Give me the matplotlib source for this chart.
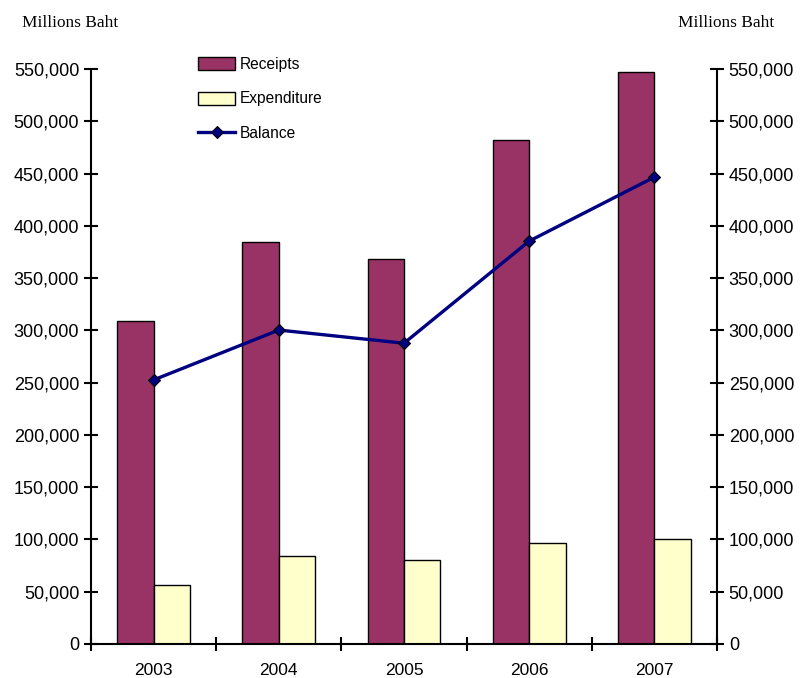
import numpy as np
import matplotlib.pyplot as plt
from matplotlib.ticker import FuncFormatter, FixedLocator

years = ['2003', '2004', '2005', '2006', '2007']
receipts = [309000, 384500, 368000, 482000, 547000]
expenditure = [56400, 84200, 80300, 96600, 100400]
balance = [252600, 300300, 287700, 385400, 446600]

plt.rcParams['font.family'] = ['Liberation Sans', 'DejaVu Sans']

fig = plt.figure(figsize=(8.04, 6.78), dpi=100)
ax = fig.add_axes([91/804, 34/678, 626/804, 575/678])

x = np.arange(len(years))
w = 0.29
ax.bar(x - w/2, receipts, w, color='#993366', edgecolor='black', linewidth=1, label='Receipts')
ax.bar(x + w/2, expenditure, w, color='#FFFFCC', edgecolor='black', linewidth=1, label='Expenditure')

ax2 = ax.twinx()
ax2.plot(x, balance, color='#000080', linewidth=2.4, marker='D', markersize=6,
         markerfacecolor='#000080', markeredgecolor='black', markeredgewidth=0.8, label='Balance')

fmt = FuncFormatter(lambda v, p: f'{int(v):,}')
for a in (ax, ax2):
    a.set_ylim(0, 550000)
    a.set_yticks(np.arange(0, 550001, 50000))
    a.yaxis.set_major_formatter(fmt)
    a.spines['top'].set_visible(False)
    a.tick_params(axis='y', direction='inout', length=10, width=1.5, labelsize=13)
    for s in a.spines.values():
        s.set_linewidth(1.5)

ax.set_xlim(-0.5, len(years) - 0.5)
ax.set_xticks(x)
ax.set_xticklabels(years)
ax.xaxis.set_minor_locator(FixedLocator(np.arange(-0.5, len(years), 1)))
ax.tick_params(axis='x', which='major', length=0, labelsize=12.5, pad=14)
ax.tick_params(axis='x', which='minor', direction='inout', length=10, width=1.5)
ax.spines['right'].set_visible(False)
ax2.spines['left'].set_visible(False)
ax2.spines['bottom'].set_visible(False)

fig.text(22/804, 1 - 23/678, 'Millions Baht', family='Liberation Serif', fontsize=12.4, va='center', ha='left')
fig.text(774/804, 1 - 23/678, 'Millions Baht', family='Liberation Serif', fontsize=12.4, va='center', ha='right')

h1, l1 = ax.get_legend_handles_labels()
h2, l2 = ax2.get_legend_handles_labels()
fig.legend(h1 + h2, l1 + l2, loc='upper left', bbox_to_anchor=(184/804, 1 - 43/678),
           frameon=False, fontsize=11.2, handlelength=2.4, handleheight=0.9,
           handletextpad=0.3, labelspacing=1.25)

fig.savefig('out.png', dpi=100)
